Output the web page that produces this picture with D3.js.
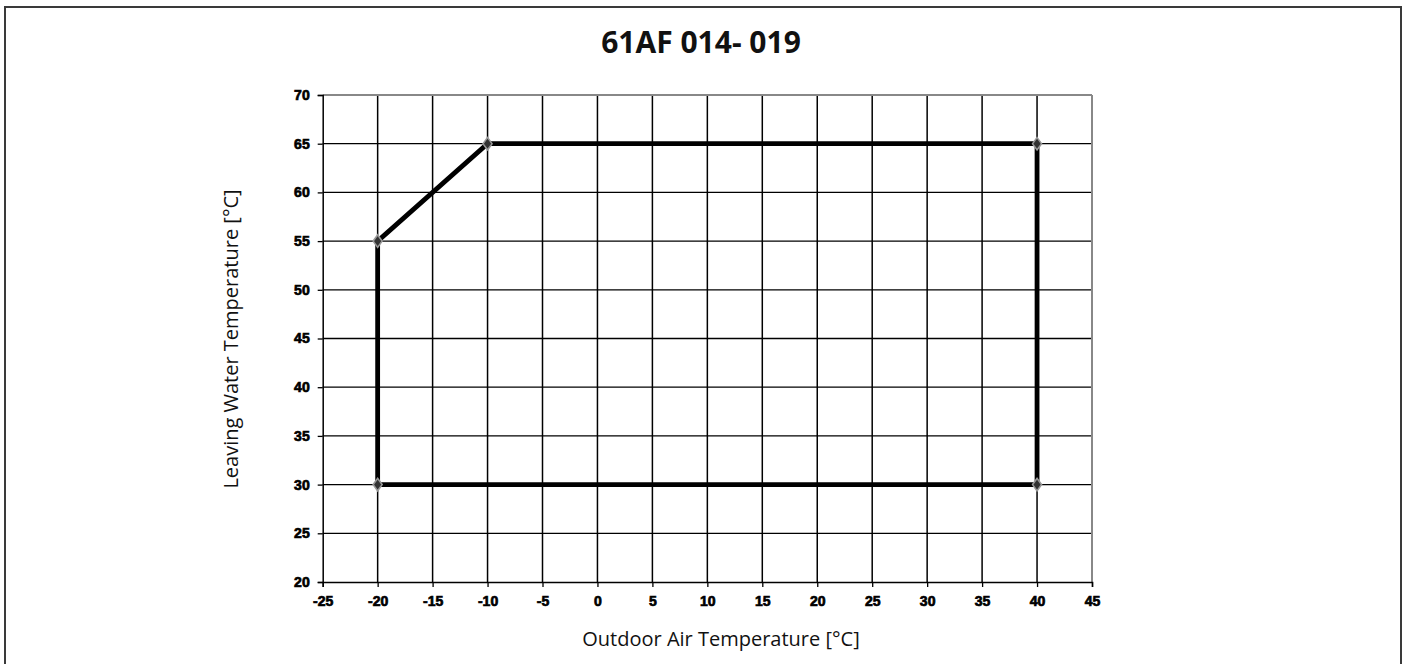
<!DOCTYPE html>
<html><head><meta charset="utf-8">
<script src="https://cdn.jsdelivr.net/npm/d3@7/dist/d3.min.js"></script>
<style>html,body{margin:0;padding:0;background:#fff;}svg{display:block;}</style>
</head><body>
<script>
const title = "61AF 014- 019";
const xLabel = "Outdoor Air Temperature [°C]";
const yLabel = "Leaving Water Temperature [°C]";
const xTicks = [-25,-20,-15,-10,-5,0,5,10,15,20,25,30,35,40,45];
const yTicks = [20,25,30,35,40,45,50,55,60,65,70];
const envX = [-20,-20,-10,40,40,-20];
const envY = [30,55,65,65,30,30];

const W = 1406, H = 664;
const svg = d3.select("body").append("svg").attr("width", W).attr("height", H);
svg.append("rect").attr("x",5).attr("y",7).attr("width",1396).attr("height",680)
  .attr("fill","#fff").attr("stroke","#3a3a3a").attr("stroke-width",2);

const x = d3.scaleLinear().domain([-25,45]).range([322.7,1092]);
const y = d3.scaleLinear().domain([20,70]).range([582,95]);

svg.append("text").attr("x",701).attr("y",53).attr("text-anchor","middle")
  .attr("font-family","'Open Sans'").attr("font-weight","bold").attr("font-size",30)
  .attr("fill","#111").text(title);

const g = svg.append("g");
g.selectAll("line.vg").data(xTicks.filter(d=>d>-25&&d<45)).join("line")
  .attr("x1",d=>x(d)).attr("x2",d=>x(d)).attr("y1",y(20)).attr("y2",y(70))
  .attr("stroke","#000").attr("stroke-width",1.5);
g.selectAll("line.hg").data(yTicks.filter(d=>d>20&&d<70)).join("line")
  .attr("y1",d=>y(d)).attr("y2",d=>y(d)).attr("x1",x(-25)).attr("x2",x(45))
  .attr("stroke","#000").attr("stroke-width",1.3);
g.append("line").attr("x1",x(-25)).attr("x2",x(45)).attr("y1",y(70)).attr("y2",y(70)).attr("stroke","#888").attr("stroke-width",2);
g.append("line").attr("x1",x(45)).attr("x2",x(45)).attr("y1",y(70)).attr("y2",y(20)).attr("stroke","#888").attr("stroke-width",2);

const fmt = d => String(d);
const xAxis = d3.axisBottom(x).tickValues(xTicks).tickSize(5).tickPadding(6).tickFormat(fmt);
const yAxis = d3.axisLeft(y).tickValues(yTicks).tickSize(5).tickPadding(8).tickFormat(fmt);
const gx = svg.append("g").attr("transform",`translate(0,${y(20)})`).call(xAxis);
const gy = svg.append("g").attr("transform",`translate(${x(-25)},0)`).call(yAxis);
[gx,gy].forEach(a=>{
  a.select(".domain").attr("stroke","#000").attr("stroke-width",1.5);
  a.selectAll(".tick line").attr("stroke","#000").attr("stroke-width",1.3);
  a.selectAll("text").attr("font-family","'Liberation Sans', Arial, sans-serif")
    .attr("font-weight","bold").attr("font-size",14).attr("fill","#000")
    .attr("stroke","#000").attr("stroke-width",0.7);
});
gx.selectAll("text").attr("dy","0.9em");

const line = d3.line().x((d,i)=>x(envX[i])).y((d,i)=>y(envY[i]));
svg.append("path").datum(envX).attr("d",line).attr("fill","none")
  .attr("stroke","#000").attr("stroke-width",4.8).attr("stroke-linejoin","miter");
const sym = d3.symbol().type(d3.symbolDiamond).size(45);
svg.selectAll("path.mk").data(envX.slice(0,5)).join("path")
  .attr("transform",(d,i)=>`translate(${x(envX[i])},${y(envY[i])}) scale(1.25,1)`)
  .attr("d",sym).attr("fill","#333").attr("stroke","#999").attr("stroke-width",1.3);

svg.append("text").attr("x",721).attr("y",646).attr("text-anchor","middle")
  .attr("font-family","'Open Sans'").attr("font-size",20).attr("fill","#111").text(xLabel);
svg.append("text").attr("transform","translate(238,339) rotate(-90)").attr("text-anchor","middle")
  .attr("font-family","'Open Sans'").attr("font-size",20).attr("fill","#111").text(yLabel);
</script>
</body></html>
